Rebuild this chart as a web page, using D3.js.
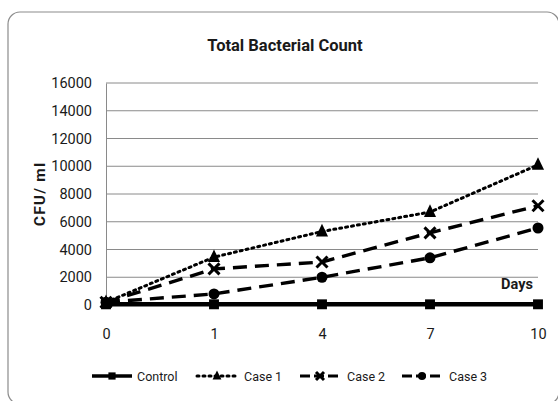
<!DOCTYPE html>
<html>
<head>
<meta charset="utf-8">
<script src="https://cdn.jsdelivr.net/npm/d3@7"></script>
<style>
  body { margin: 0; background: #fff; }
  text { font-family: Roboto, "Open Sans", Arial, sans-serif; fill: #1a1a1a; }
</style>
</head>
<body>
<div id="vis"></div>
<script>
const width = 558;
const height = 401;
const margin = { top: 83, right: 20, bottom: 96, left: 106 };

// Data
const days = ["0", "1", "4", "7", "10"];
const control = [50, 50, 50, 50, 50];
const case1 = [200, 3450, 5300, 6700, 10100];
const case2 = [200, 2600, 3100, 5200, 7150];
const case3 = [200, 800, 2000, 3400, 5550];
const yTicks = [0, 2000, 4000, 6000, 8000, 10000, 12000, 14000, 16000];

const series = [
  { name: "Control", values: control, dash: null, width: 4.5, marker: "square" },
  { name: "Case 1", values: case1, dash: "2,4", width: 3, marker: "triangle" },
  { name: "Case 2", values: case2, dash: "14,8", width: 3.4, marker: "cross" },
  { name: "Case 3", values: case3, dash: "14,8", width: 3.4, marker: "circle" }
];

const svg = d3.select("#vis").append("svg")
  .attr("width", width)
  .attr("height", height);

// Chart frame
svg.append("rect")
  .attr("x", 8).attr("y", 12)
  .attr("width", 551).attr("height", 392)
  .attr("rx", 12)
  .attr("fill", "#fff")
  .attr("stroke", "#8c8c8c")
  .attr("stroke-width", 1.2);

const xScale = d3.scalePoint().domain(days).range([margin.left, 538]);
const yScale = d3.scaleLinear().domain([0, 16000]).range([305, margin.top]);

// Gridlines
svg.append("g")
  .selectAll("line")
  .data(yTicks)
  .join("line")
  .attr("x1", margin.left).attr("x2", 538)
  .attr("y1", d => yScale(d)).attr("y2", d => yScale(d))
  .attr("stroke", "#8a8a8a")
  .attr("stroke-width", 1);

// Y axis
const yAxis = svg.append("g")
  .attr("transform", `translate(${margin.left},0)`)
  .call(d3.axisLeft(yScale).tickValues(yTicks).tickSize(0).tickPadding(14).tickFormat(d3.format("d")));
yAxis.select(".domain").attr("stroke", "#8a8a8a");
yAxis.selectAll("text").style("font-size", "14.5px").style("font-family", "Roboto, Arial, sans-serif");

// X axis
const xAxis = svg.append("g")
  .attr("transform", `translate(0,${yScale(0)})`)
  .call(d3.axisBottom(xScale).tickSize(0).tickPadding(24));
xAxis.select(".domain").remove();
xAxis.selectAll("text").style("font-size", "14.5px").style("font-family", "Roboto, Arial, sans-serif");

// Title
svg.append("text")
  .attr("x", 285).attr("y", 51)
  .attr("text-anchor", "middle")
  .style("font-size", "16.5px").style("font-weight", "bold")
  .text("Total Bacterial Count");

svg.append("text")
  .attr("transform", `translate(45,${(83 + 305) / 2}) rotate(-90)`)
  .attr("text-anchor", "middle")
  .style("font-size", "15.5px").style("font-weight", "bold")
  .style("letter-spacing", "1.2px")
  .text("CFU/ ml");

svg.append("text")
  .attr("x", 517).attr("y", 289)
  .attr("text-anchor", "middle")
  .style("font-size", "14.5px").style("font-weight", "bold")
  .text("Days");

// Markers
function drawMarker(g, type, x, y, s) {
  if (type === "square") {
    g.append("rect").attr("x", x - s * 0.45).attr("y", y - s * 0.45)
      .attr("width", s * 0.9).attr("height", s * 0.9).attr("fill", "#000");
  } else if (type === "triangle") {
    g.append("path").attr("d", `M${x},${y - s * 0.7}L${x + s * 0.55},${y + s * 0.45}L${x - s * 0.55},${y + s * 0.45}Z`)
      .attr("fill", "#000");
  } else if (type === "cross") {
    const r = s * 0.5;
    g.append("path").attr("d", `M${x - r},${y - r}L${x + r},${y + r}M${x - r},${y + r}L${x + r},${y - r}`)
      .attr("stroke", "#000").attr("stroke-width", 3);
  } else if (type === "circle") {
    g.append("circle").attr("cx", x).attr("cy", y).attr("r", s * 0.5).attr("fill", "#000");
  }
}

const line = d3.line()
  .x((d, i) => xScale(days[i]))
  .y(d => yScale(d));

series.slice().reverse().forEach(s => {
  const g = svg.append("g");
  g.append("path")
    .datum(s.values)
    .attr("d", line)
    .attr("fill", "none")
    .attr("stroke", "#000")
    .attr("stroke-width", s.width)
    .attr("stroke-dasharray", s.dash)
    .attr("stroke-linecap", s.name === "Case 1" ? "round" : "butt");
  s.values.forEach((v, i) => drawMarker(g, s.marker, xScale(days[i]), yScale(v), 11));
});

// Legend
const legendX = [92, 197, 300, 402];
const legend = svg.append("g");
series.forEach((s, i) => {
  const x0 = legendX[i];
  const y0 = 376;
  legend.append("line")
    .attr("x1", x0).attr("x2", x0 + 40)
    .attr("y1", y0).attr("y2", y0)
    .attr("stroke", "#000")
    .attr("stroke-width", s.name === "Control" ? 3.5 : 3)
    .attr("stroke-dasharray", s.name === "Case 1" ? "2,4" : (s.dash ? "10,4" : null))
    .attr("stroke-linecap", s.name === "Case 1" ? "round" : "butt");
  drawMarker(legend, s.marker, x0 + 20, y0, 8);
  legend.append("text")
    .attr("x", x0 + (i === 0 ? 45 : 47)).attr("y", y0 + 4.5)
    .style("font-size", "12.5px")
    .text(s.name);
});
</script>
</body>
</html>
